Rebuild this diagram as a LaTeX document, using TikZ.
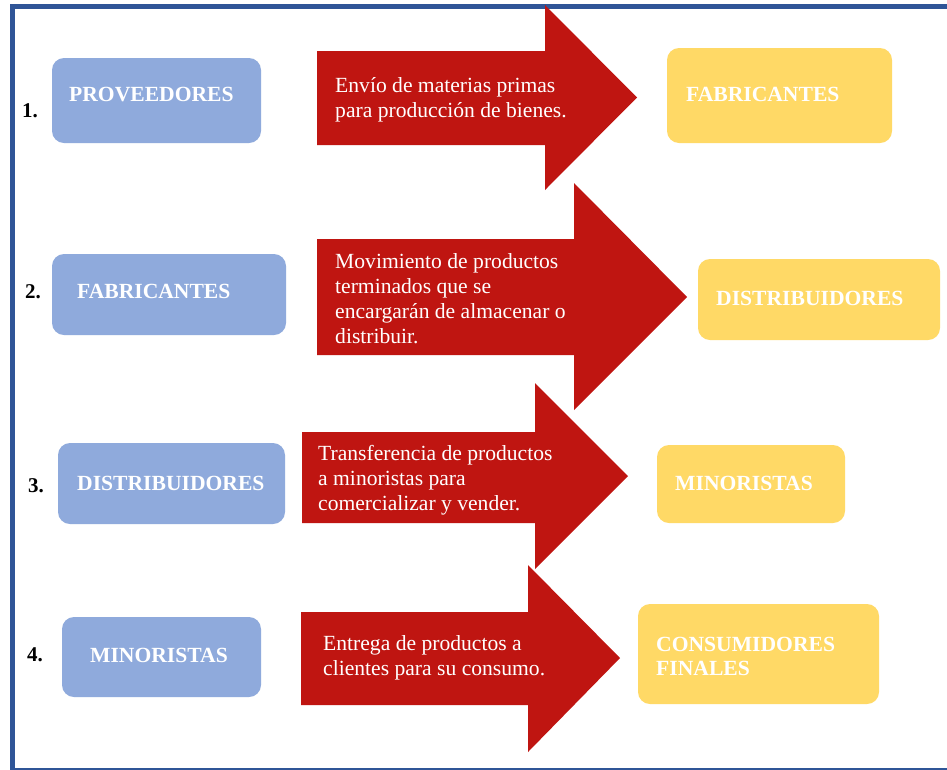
\documentclass[tikz,border=0pt]{standalone}
\usepackage{fontspec}
\setmainfont{Liberation Serif}
\definecolor{frameblue}{RGB}{47,85,151}
\definecolor{boxblue}{RGB}{143,170,220}
\definecolor{boxyellow}{RGB}{255,217,102}
\definecolor{arrowred}{RGB}{191,21,17}
\tikzset{
  bluebox/.style={draw=none,fill=boxblue,rounded corners=12pt,inner sep=0pt},
  yellowbox/.style={draw=none,fill=boxyellow,rounded corners=12pt,inner sep=0pt},
  boxlabel/.style={anchor=base west,inner sep=0pt,text=white,font=\bfseries\fontsize{21.6}{24}\selectfont,align=left},
  arrowlabel/.style={anchor=base west,inner sep=0pt,text=white,font=\fontsize{21.6}{25}\selectfont,align=left},
  numlabel/.style={anchor=base west,inner sep=0pt,text=black,font=\bfseries\fontsize{21}{25}\selectfont},
  bigarrow/.style={fill=arrowred,draw=none}
}
\begin{document}
\begin{tikzpicture}[x=1pt,y=-1pt]
\useasboundingbox (0,0) rectangle (947,769);
\clip (0,0) rectangle (947,769);
\fill[white] (0,0) rectangle (947,769);
% frame
\draw[frameblue,line width=5pt] (12,6.5) rectangle (955,770);

% arrows
\fill[bigarrow] (317,51) -- (545,51) -- (545,5) -- (637,97.5) -- (545,190) -- (545,145) -- (317,145) -- cycle;
\fill[bigarrow] (317,239) -- (574,239) -- (574,183) -- (687,297) -- (574,410) -- (574,355) -- (317,355) -- cycle;
\fill[bigarrow] (302,432) -- (535,432) -- (535,383) -- (628,476) -- (535,569) -- (535,523) -- (302,523) -- cycle;
\fill[bigarrow] (301,612) -- (528,612) -- (528,565) -- (620,658) -- (528,752) -- (528,705) -- (301,705) -- cycle;

% row 1
\node[numlabel] (n1) at (22,117) {1.};
\node[bluebox,minimum width=209pt,minimum height=85pt] (b1) at (156.5,100.5) {};
\node[boxlabel] (t1) at (69,101) {PROVEEDORES};
\node[arrowlabel] (a1) at (335,117) {Envío de materias primas\\para producción de bienes.};
\node[yellowbox,minimum width=225pt,minimum height=95pt] (y1) at (779.5,95.5) {};
\node[boxlabel] (u1) at (686,101) {FABRICANTES};

% row 2
\node[numlabel] (n2) at (25,298) {2.};
\node[bluebox,minimum width=234pt,minimum height=81pt] (b2) at (169,294.5) {};
\node[boxlabel] (t2) at (77,298) {FABRICANTES};
\node[arrowlabel] (a2) at (335,343) {Movimiento de productos\\terminados que se\\encargarán de almacenar o\\distribuir.};
\node[yellowbox,minimum width=242pt,minimum height=81pt] (y2) at (819,299.5) {};
\node[boxlabel] (u2) at (716,305) {DISTRIBUIDORES};

% row 3
\node[numlabel] (n3) at (28,492) {3.};
\node[bluebox,minimum width=227pt,minimum height=81pt] (b3) at (171.5,483.5) {};
\node[boxlabel] (t3) at (77,490) {DISTRIBUIDORES};
\node[arrowlabel] (a3) at (318,510) {Transferencia de productos\\a minoristas para\\comercializar y vender.};
\node[yellowbox,minimum width=188pt,minimum height=78pt] (y3) at (751,484) {};
\node[boxlabel] (u3) at (675,490) {MINORISTAS};

% row 4
\node[numlabel] (n4) at (27,661) {4.};
\node[bluebox,minimum width=199pt,minimum height=80pt] (b4) at (161.5,657) {};
\node[boxlabel] (t4) at (90,662) {MINORISTAS};
\node[arrowlabel] (a4) at (323,675) {Entrega de productos a\\clientes para su consumo.};
\node[yellowbox,minimum width=241pt,minimum height=100pt] (y4) at (758.5,654) {};
\node[boxlabel] (u4) at (656,675) {CONSUMIDORES\\FINALES};
\end{tikzpicture}
\end{document}
